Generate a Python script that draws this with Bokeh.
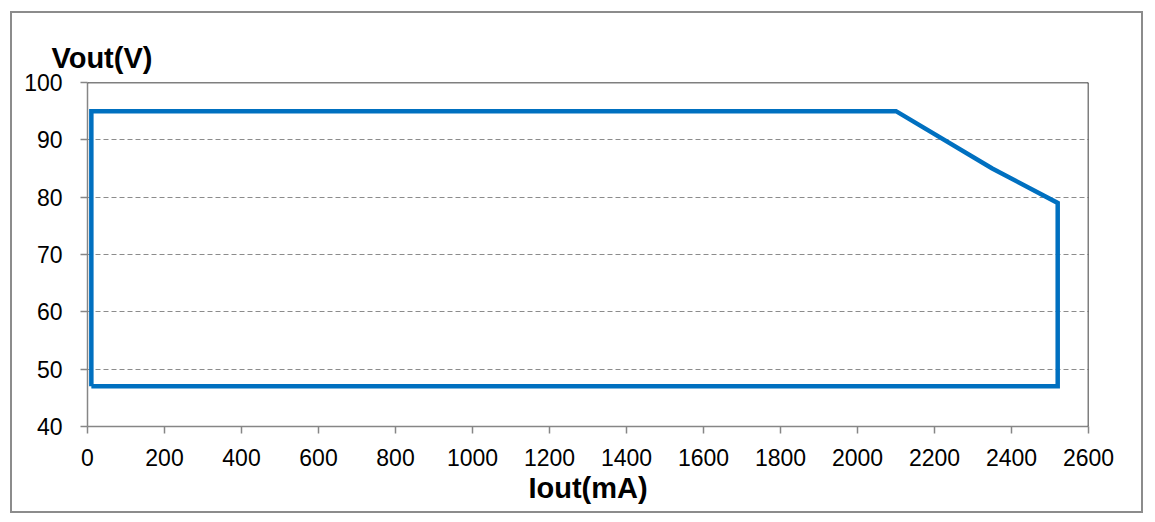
from bokeh.plotting import figure
from bokeh.models import Span, FixedTicker, Title
from bokeh.embed import file_html
from bokeh.resources import INLINE

# Data
iout_ma = [10, 10, 2100, 2350, 2520, 2520, 10]
vout_v = [47, 95, 95, 85, 79, 47, 47]
x_ticks = list(range(0, 2601, 200))
y_ticks = list(range(40, 101, 10))
x_range = (0, 2600)
y_range = (40, 100)
grid_levels = [50, 60, 70, 80, 90]

FONT = "Liberation Sans"

p = figure(
    output_backend="svg", toolbar_location=None,
    frame_width=1001, frame_height=344,
    min_border_left=75, min_border_right=53,
    min_border_top=69, min_border_bottom=85,
    x_range=x_range, y_range=y_range,
)
p.margin = (11, 0, 0, 10)
p.styles = {"border": "2px solid #8c8c8c"}
p.outline_line_color = None
p.background_fill_color = "white"
p.border_fill_color = "white"

p.line(iout_ma, vout_v, line_color="#0070C0", line_width=4.5, line_join="miter")

# axes
for ax in (p.xaxis[0], p.yaxis[0]):
    ax.axis_line_color = "#868686"
    ax.axis_line_width = 1.5
    ax.major_tick_line_color = "#868686"
    ax.major_tick_line_width = 1.5
    ax.major_tick_out = 7
    ax.major_tick_in = 0
    ax.minor_tick_line_color = None
    ax.major_label_text_font = FONT
    ax.major_label_text_font_size = "23px"
    ax.major_label_text_color = "black"

p.xaxis.ticker = FixedTicker(ticks=x_ticks)
p.yaxis.ticker = FixedTicker(ticks=y_ticks)
p.xaxis.major_label_standoff = 15
p.yaxis.major_label_standoff = 18

p.xaxis.axis_label = "Iout(mA)"
p.xaxis.axis_label_text_font = FONT
p.xaxis.axis_label_text_font_style = "bold"
p.xaxis.axis_label_text_font_size = "29px"
p.xaxis.axis_label_text_color = "black"
p.xaxis.axis_label_standoff = 3

p.xgrid.grid_line_color = None
p.ygrid.ticker = FixedTicker(ticks=grid_levels)
p.ygrid.grid_line_color = "#8c8c8c"
p.ygrid.grid_line_dash = "5 3"
p.ygrid.grid_line_width = 1

# black top and right frame edges
p.add_layout(Span(location=y_range[1], dimension="width", line_color="black", line_width=1.5))
p.add_layout(Span(location=x_range[1], dimension="height", line_color="black", line_width=1.5))

# y-axis title placed horizontally above the axis
p.add_layout(Title(text="Vout(V)", align="left", offset=-36, standoff=18,
                   text_font=FONT, text_font_style="bold", text_font_size="29px",
                   text_color="black"), "above")

open("out.html", "w").write(file_html(p, INLINE))
